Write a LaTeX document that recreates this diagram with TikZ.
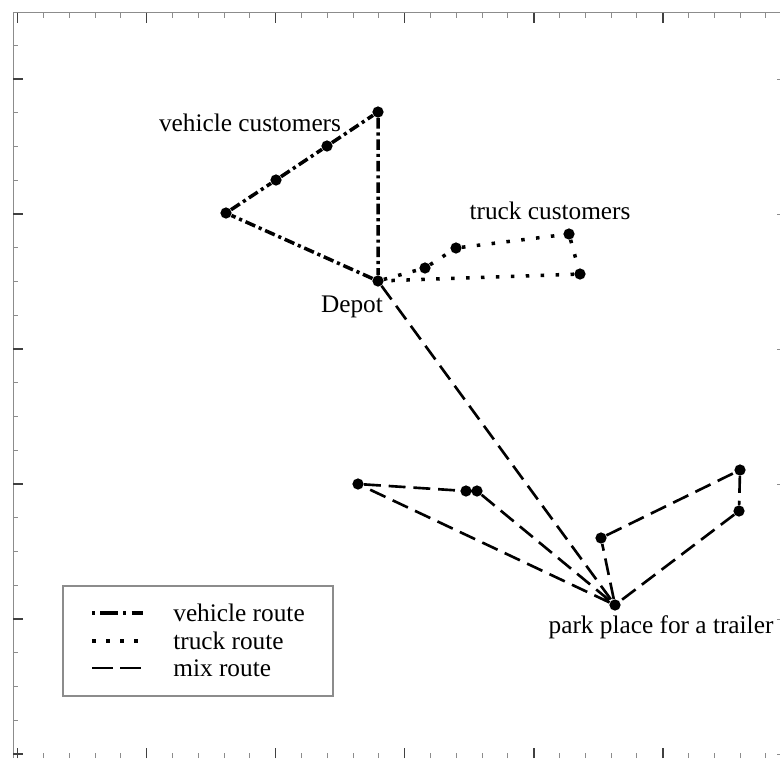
\documentclass[tikz,border=0pt]{standalone}
\usepackage{fontspec}
\setmainfont{Liberation Serif}
\usepackage{tikz}
\definecolor{axisGray}{HTML}{8C8C8C}

\begin{document}
\begin{tikzpicture}[x=0.02cm, y=-0.02cm,
    vehicleroute/.style={line width=2pt, dash pattern=on 6pt off 2.2pt on 1.8pt off 2.2pt},
    truckroute/.style={line width=2pt, dash pattern=on 2pt off 6.5pt},
    mixroute/.style={line width=1.5pt, dash pattern=on 9.6pt off 4.5pt},
    custpt/.style={circle, fill, inner sep=0pt, minimum size=6.4pt},
    lbl/.style={font=\fontsize{14.4}{17}\selectfont, inner sep=0pt},
    minortick/.style={axisGray, line width=0.5pt},
    majortick/.style={black!75, line width=0.9pt}]
    \useasboundingbox (0,0) rectangle (780,758);
    \draw[axisGray, line width=0.6pt] (780,12.7) -- (13.3,12.7) -- (13.3,758);
    \foreach \i in {0,...,29} {
        \draw[minortick] ({17.7+25.8*\i},12.7) -- ++(0,5);
        \draw[minortick] ({17.7+25.8*\i},758) -- ++(0,-5);
    }
    \foreach \i in {0,...,5} {
        \draw[majortick] ({17.7+129*\i},12.7) -- ++(0,10);
        \draw[majortick] ({17.7+129*\i},758) -- ++(0,-10);
    }
    \foreach \j in {1,...,21}
        \draw[minortick] (13.3,{754-33.75*\j}) -- ++(5,0);
    \foreach \j in {0,...,5} {
        \draw[majortick] (13.3,{754-135*\j}) -- ++(10,0);
        \draw[minortick] (780,{754-135*\j}) -- ++(-3,0);
    }

    \node[custpt] (depot) at (378,281) {};
    \node[custpt] (v1) at (226,213) {};
    \node[custpt] (v2) at (276,180) {};
    \node[custpt] (v3) at (327,146) {};
    \node[custpt] (v4) at (378,112) {};
    \node[custpt] (t1) at (425,268) {};
    \node[custpt] (t2) at (456,248) {};
    \node[custpt] (t3) at (569,234) {};
    \node[custpt] (t4) at (580,274) {};
    \node[custpt] (park) at (615,605) {};
    \node[custpt] (m1) at (358,484) {};
    \node[custpt] (m2) at (466,491) {};
    \node[custpt] (m3) at (477,491) {};
    \node[custpt] (m4) at (601,538) {};
    \node[custpt] (m5) at (740,470) {};
    \node[custpt] (m6) at (739,511) {};

    \draw[vehicleroute] (depot) -- (v1) -- (v2) -- (v3) -- (v4) -- (depot);
    \draw[truckroute] (depot) -- (t1) -- (t2) -- (t3) -- (t4) -- (depot);
    \draw[mixroute] (depot) -- (park);
    \draw[mixroute] (park) -- (m1) -- (m2) -- (m3) -- (park);
    \draw[mixroute] (park) -- (m4) -- (m5) -- (m6) -- (park);

    \node[lbl] (vlabel) at (250,123) {vehicle customers};
    \node[lbl] (tlabel) at (550,211) {truck customers};
    \node[lbl] (dlabel) at (352,307) {Depot};
    \node[lbl] (plabel) at (661,627) {park place for a trailer};

    \draw[axisGray, line width=0.6pt] (63,586) rectangle (333,696);
    \draw[vehicleroute, dash pattern=on 1.8pt off 3pt on 10pt off 3pt] (92,613) -- (143,613);
    \draw[truckroute, dash pattern=on 2pt off 6pt] (92,641) -- (143,641);
    \draw[mixroute, dash pattern=on 12pt off 4pt] (92,668) -- (143,668);
    \node[lbl, anchor=west] (lveh) at (173,613) {vehicle route};
    \node[lbl, anchor=west] (ltruck) at (173,641) {truck route};
    \node[lbl, anchor=west] (lmix) at (173,668) {mix route};
\end{tikzpicture}
\end{document}
